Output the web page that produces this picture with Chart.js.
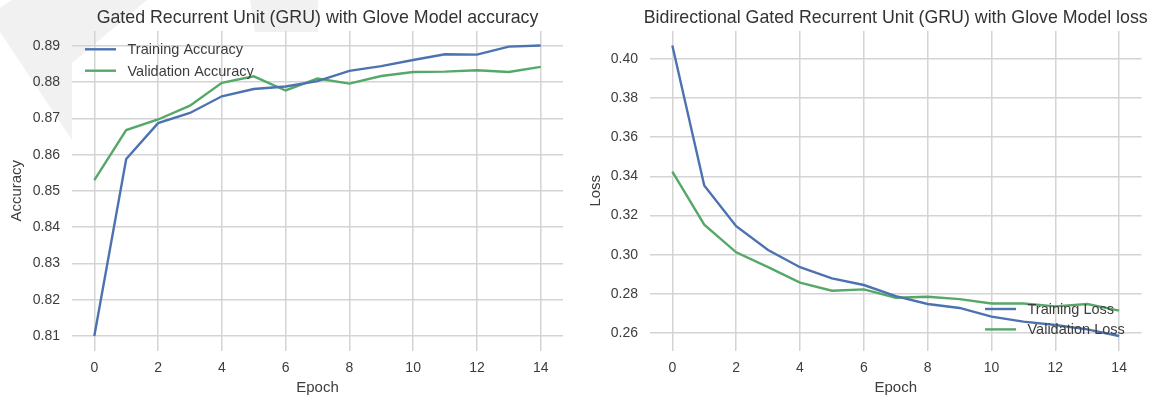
<!DOCTYPE html>
<html>
<head>
<meta charset="utf-8">
<script src="https://cdn.jsdelivr.net/npm/chart.js@4/dist/chart.umd.min.js"></script>
<style>
  html, body { margin: 0; padding: 0; background: #ffffff; }
  #wrap { position: relative; width: 1163px; height: 400px; overflow: hidden; }
  #emblem { position: absolute; left: 0; top: 0; }
  .panel { position: absolute; top: 0; height: 400px; }
  #p1 { left: 0; width: 580px; }
  #p2 { left: 580px; width: 583px; }
</style>
</head>
<body>
<div id="wrap">
  <svg id="emblem" width="1163" height="400">
    <polygon points="12,0 147,0 72,63 72,140 0,32 0,8" fill="#f1f1f1"/>
    <polygon points="250,0 318,0 318,32 255,32" fill="#f1f1f1"/>
  </svg>
  <div class="panel" id="p1"><canvas id="accChart" width="580" height="400"></canvas></div>
  <div class="panel" id="p2"><canvas id="lossChart" width="583" height="400"></canvas></div>
</div>
<script>
// Training history of the GRU / GloVe model, one value per epoch
const epochs = [0, 1, 2, 3, 4, 5, 6, 7, 8, 9, 10, 11, 12, 13, 14];

const trainAccuracy = [0.8100, 0.8588, 0.8687, 0.8715, 0.8761, 0.8781, 0.8788, 0.8803,
                       0.8831, 0.8844, 0.8861, 0.8877, 0.8876, 0.8898, 0.8901];
const valAccuracy   = [0.8530, 0.8668, 0.8697, 0.8735, 0.8798, 0.8816, 0.8777, 0.8810,
                       0.8796, 0.8817, 0.8828, 0.8829, 0.8833, 0.8828, 0.8842];

const trainLoss = [0.4068, 0.3354, 0.3146, 0.3025, 0.2937, 0.2880, 0.2846, 0.2789,
                   0.2749, 0.2729, 0.2685, 0.2659, 0.2642, 0.2620, 0.2586];
const valLoss   = [0.3425, 0.3154, 0.3013, 0.2937, 0.2858, 0.2817, 0.2824, 0.2781,
                   0.2786, 0.2774, 0.2752, 0.2752, 0.2737, 0.2749, 0.2715];

const epochTicks    = [0, 2, 4, 6, 8, 10, 12, 14];
const accuracyTicks = [0.81, 0.82, 0.83, 0.84, 0.85, 0.86, 0.87, 0.88, 0.89];
const lossTicks     = [0.26, 0.28, 0.30, 0.32, 0.34, 0.36, 0.38, 0.40];

const BLUE  = '#4C72B0';
const GREEN = '#55A868';
const GRID  = '#d4d4d4';
const TEXT  = '#3d3d3d';
const FONT  = '"Liberation Sans", Arial, Helvetica, sans-serif';

Chart.defaults.font.family = FONT;
Chart.defaults.color = TEXT;

// Axis limits padded by 5% of the data span on each side
function paddedRange(values, frac) {
  const lo = Math.min(...values), hi = Math.max(...values);
  const pad = (hi - lo) * frac;
  return [lo - pad, hi + pad];
}

function points(ys) {
  return epochs.map((e, i) => ({ x: e, y: ys[i] }));
}

// Title centred over the plotting area
const areaTitle = {
  id: 'areaTitle',
  afterDraw(chart, args, opts) {
    const { ctx, chartArea } = chart;
    ctx.save();
    ctx.font = opts.size + 'px ' + FONT;
    ctx.fillStyle = opts.color;
    ctx.textAlign = 'center';
    ctx.textBaseline = 'middle';
    ctx.fillText(opts.text, (chartArea.left + chartArea.right) / 2, opts.y);
    ctx.restore();
  }
};

// Frameless legend drawn inside the plotting area
const innerLegend = {
  id: 'innerLegend',
  afterDatasetsDraw(chart, args, opts) {
    const ctx = chart.ctx;
    ctx.save();
    ctx.font = opts.size + 'px ' + FONT;
    ctx.textAlign = 'left';
    ctx.textBaseline = 'middle';
    chart.data.datasets.forEach((ds, i) => {
      const y = opts.y + i * opts.rowGap;
      ctx.strokeStyle = ds.borderColor;
      ctx.lineWidth = ds.borderWidth;
      ctx.beginPath();
      ctx.moveTo(opts.x, y);
      ctx.lineTo(opts.x + opts.lineLen, y);
      ctx.stroke();
      ctx.fillStyle = opts.color;
      ctx.fillText(ds.label, opts.x + opts.lineLen + opts.textGap, y + 1);
    });
    ctx.restore();
  }
};

function makeChart(canvasId, cfg) {
  const [ymin, ymax] = paddedRange(cfg.series.flat(), 0.05);
  return new Chart(document.getElementById(canvasId), {
    type: 'line',
    data: {
      datasets: cfg.series.map((s, i) => ({
        label: cfg.labels[i],
        data: points(s),
        borderColor: cfg.colors[i],
        backgroundColor: cfg.colors[i],
        borderWidth: 2.4,
        pointRadius: 0,
        tension: 0,
        fill: false
      }))
    },
    options: {
      responsive: false,
      animation: false,
      devicePixelRatio: 1,
      layout: { padding: { top: 31, right: cfg.rightPad, bottom: 0, left: 0 } },
      plugins: {
        legend: { display: false },
        tooltip: { enabled: false },
        areaTitle: { text: cfg.title, size: 17.8, y: 18, color: '#333333' },
        innerLegend: Object.assign({ size: 14.5, color: '#3d3d3d', lineLen: 31, textGap: 11.5 }, cfg.legend)
      },
      scales: {
        x: {
          type: 'linear',
          min: epochs[0] - 0.05 * (epochs[epochs.length - 1] - epochs[0]),
          max: epochs[epochs.length - 1] + 0.05 * (epochs[epochs.length - 1] - epochs[0]),
          afterBuildTicks: (scale) => { scale.ticks = epochTicks.map(v => ({ value: v })); },
          afterFit: (scale) => { scale.height = 49.5; },
          border: { display: false },
          grid: { color: GRID, lineWidth: 1.5, drawTicks: false },
          ticks: { padding: 9, font: { size: 14 }, color: TEXT, callback: (v) => String(v) },
          title: { display: true, text: 'Epoch', font: { size: 15 }, color: TEXT, padding: { top: 0, bottom: 3 } }
        },
        y: {
          min: ymin,
          max: ymax,
          afterBuildTicks: (scale) => { scale.ticks = cfg.yTicks.map(v => ({ value: v })); },
          afterFit: (scale) => { scale.width = cfg.yAxisWidth; },
          border: { display: false },
          grid: { color: GRID, lineWidth: 1.5, drawTicks: false },
          ticks: { padding: 12, font: { size: 14 }, color: TEXT, callback: (v) => Number(v).toFixed(2) },
          title: { display: true, text: cfg.yTitle, font: { size: 15 }, color: TEXT, padding: { top: cfg.yTitlePad, bottom: 0 } }
        }
      }
    },
    plugins: [areaTitle, innerLegend]
  });
}

makeChart('accChart', {
  title: 'Gated Recurrent Unit (GRU) with Glove Model accuracy',
  series: [trainAccuracy, valAccuracy],
  labels: ['Training Accuracy', 'Validation Accuracy'],
  colors: [BLUE, GREEN],
  yTicks: accuracyTicks,
  yTitle: 'Accuracy',
  yAxisWidth: 72,
  yTitlePad: 7.5,
  rightPad: 17,
  legend: { x: 85, y: 49.3, rowGap: 21.4 }
});

makeChart('lossChart', {
  title: 'Bidirectional Gated Recurrent Unit (GRU) with Glove Model loss',
  series: [trainLoss, valLoss],
  labels: ['Training Loss', 'Validation Loss'],
  colors: [BLUE, GREEN],
  yTicks: lossTicks,
  yTitle: 'Loss',
  yAxisWidth: 70,
  yTitlePad: 7,
  rightPad: 21.5,
  legend: { x: 405, y: 309, rowGap: 20.4 }
});
</script>
</body>
</html>
